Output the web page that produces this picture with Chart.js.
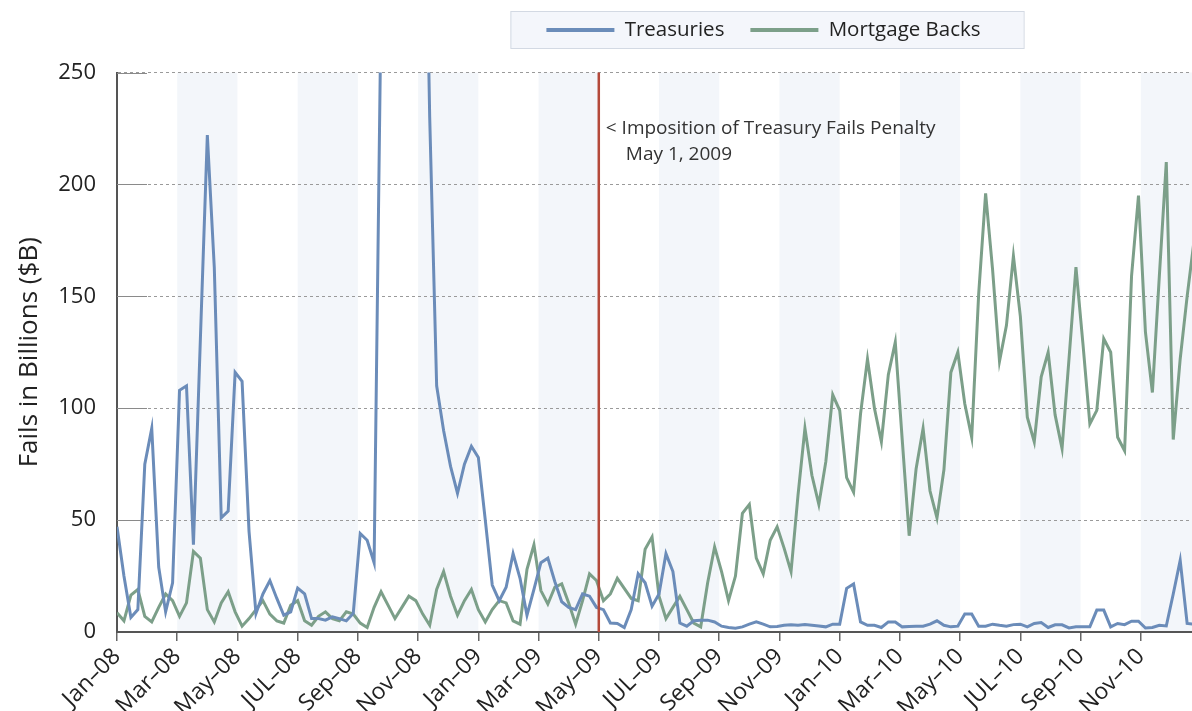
<!DOCTYPE html>
<html><head><meta charset="utf-8">
<script src="https://cdn.jsdelivr.net/npm/chart.js@4.4.1/dist/chart.umd.min.js"></script>
<style>html,body{margin:0;padding:0;background:#fff;}canvas{display:block;}</style>
</head><body>
<canvas id="c" width="1192" height="711"></canvas>
<script>
// ---- data ----
const seriesNames = ['Treasuries', 'Mortgage Backs'];
const tickLabels = ['Jan–08','Mar–08','May–08','JUL–08','Sep–08','Nov–08','Jan–09','Mar–09','May–09','JUL–09','Sep–09','Nov–09','Jan–10','Mar–10','May–10','JUL–10','Sep–10','Nov–10'];
const tickMonths = [0,2,4,6,8,10,12,14,16,18,20,22,24,26,28,30,32,34];
const shadedMonths = [[2,4],[6,8],[10,12],[14,16],[18,20],[22,24],[26,28],[30,32],[34,36]];
const penaltyMonth = 16; // May 1, 2009
const annotationLines = ['< Imposition of Treasury Fails Penalty', 'May 1, 2009'];
const yTitle = 'Fails in Billions ($B)';
const yTicks = [0, 50, 100, 150, 200, 250];
// weekly values, first week = Jan-08
const treasuries = [
 47, 25, 6.5, 10, 75, 91, 29, 9, 22, 108,
 110, 39, 131, 222, 163, 51, 54, 116, 112, 45,
 8.3, 17, 23, 15, 7.5, 9, 19.6, 17, 6, 6,
 5.3, 6.8, 6, 5, 8.3, 44, 41, 31, 280, 900,
 1500, 2000, 2700, 1800, 400, 230, 110, 90, 74, 62,
 75, 83, 78, 50, 21, 14, 20, 35, 24, 7.5,
 19, 31, 33, 22.6, 13.5, 11, 10, 17, 16, 11,
 10, 4, 3.8, 2, 10, 26, 22, 11.5, 17, 35,
 27, 4, 2.6, 5, 5.3, 5.3, 4.5, 2.6, 2, 1.7,
 2.3, 3.5, 4.5, 3.5, 2.3, 2.5, 3, 3.2, 3, 3.3,
 3, 2.7, 2.3, 3.5, 3.5, 19.5, 21.5, 4.5, 3, 3,
 2, 4.5, 4.5, 2.3, 2.5, 2.6, 2.6, 3.5, 5, 3,
 2.3, 2.6, 8, 8, 2.6, 2.6, 3.5, 3, 2.6, 3.3,
 3.5, 2.3, 3.8, 4.2, 2, 3.2, 3.2, 1.8, 2.3, 2.3,
 2.3, 9.8, 9.8, 2.3, 3.8, 3.3, 4.8, 4.8, 1.8, 2,
 3, 2.7, 17, 32, 3.8, 3.5];
const mortgageBacks = [
 8.6, 5, 16.5, 19, 7, 4.5, 11, 17, 14, 7,
 13, 36, 33, 10, 4.5, 13, 18, 9, 2.6, 6,
 10, 14, 8, 5, 4, 12, 14, 5, 3, 7,
 9, 6, 5, 9, 8, 4, 2, 11, 18, 12,
 6, 11, 16, 14, 8, 3, 19, 27, 16, 7.5,
 14, 19, 10, 4.5, 10, 14, 13, 5, 3.5, 28,
 39, 18.5, 12.5, 20, 21.5, 13, 3.5, 14, 26, 23,
 14, 17, 24, 19.5, 15, 14, 37, 42.5, 16, 6,
 11, 16, 10, 4, 2.3, 22, 38, 27, 14, 25,
 53, 57, 33, 26, 41, 47, 37.5, 27, 61, 91,
 70, 57, 76, 106, 99, 69, 62.5, 97.5, 122, 100,
 85, 115, 129.5, 86, 43, 73, 91, 63, 51, 72.5,
 116, 125, 102, 87, 151, 196, 162, 121, 137, 168,
 141, 96, 85, 114, 125, 97, 82, 122, 163, 129,
 93, 99, 131, 125, 87, 81, 159, 195, 134, 107,
 159, 210, 86, 122, 150, 175];

// ---- style ----
const WEEKS_PER_MONTH = 52 / 12;
const X_MAX = 35.7;
const FONT = "'Open Sans', sans-serif";
const COLORS = ['#6b8cb9', '#7c9f89'];
const toPoints = arr => arr.map((v, i) => ({ x: i / WEEKS_PER_MONTH, y: v }));

const decor = {
  id: 'decor',
  afterLayout(chart) {
    const lg = chart.legend;
    if (!lg || !lg.lineWidths) return;
    const pad = lg.options.labels.padding;
    const LW = lg.lineWidths[0];
    const start = (lg.left + pad + lg.right - LW) / 2;
    const center = start + (LW - pad) / 2;
    const dx = 763.5 - center;
    lg.left += dx; lg.right += dx;
    const fs = lg.options.labels.font.size;
    const dy = 30 - (lg.top + pad + fs / 2);
    lg.top += dy; lg.bottom += dy;
  },
  beforeDraw(chart) {
    const { ctx, chartArea: a, scales: { x } } = chart;
    ctx.save();
    ctx.fillStyle = '#f3f6fa';
    shadedMonths.forEach(([s, e]) => {
      const x1 = x.getPixelForValue(s);
      const x2 = Math.min(x.getPixelForValue(e), a.right);
      if (x2 > x1) ctx.fillRect(x1, a.top, x2 - x1, a.bottom - a.top);
    });
    const lg = chart.legend;
    if (lg && lg.lineWidths) {
      const pad = lg.options.labels.padding;
      const LW = lg.lineWidths[0];
      const start = (lg.left + pad + lg.right - LW) / 2;
      const end = start + LW - pad;
      const fs = lg.options.labels.font.size;
      const cy = lg.top + pad + fs / 2;
      ctx.fillStyle = '#f4f6fb';
      ctx.strokeStyle = '#d3d9e3';
      ctx.lineWidth = 1;
      ctx.fillRect(start - 36, cy - 19, end - start + 79, 37);
      ctx.strokeRect(start - 36 + 0.5, cy - 19 + 0.5, end - start + 79, 37);
    }
    ctx.restore();
  },
  beforeDatasetsDraw(chart) {
    const { ctx, chartArea: a, scales: { y } } = chart;
    ctx.save();
    ctx.strokeStyle = '#8a8a8a';
    ctx.lineWidth = 1;
    yTicks.forEach(v => {
      if (v === 0) return;
      const yp = Math.round(y.getPixelForValue(v)) + 0.5;
      ctx.beginPath(); ctx.moveTo(a.left, yp); ctx.lineTo(a.left + 30, yp); ctx.stroke();
    });
    ctx.restore();
  },
  afterDatasetsDraw(chart) {
    const { ctx, chartArea: a, scales: { x } } = chart;
    const xp = x.getPixelForValue(penaltyMonth);
    ctx.save();
    ctx.strokeStyle = '#b4493a';
    ctx.lineWidth = 2.5;
    ctx.beginPath();
    ctx.moveTo(xp, a.top);
    ctx.lineTo(xp, a.bottom);
    ctx.stroke();
    ctx.fillStyle = '#333';
    ctx.font = `19px ${FONT}`;
    ctx.textBaseline = 'middle';
    ctx.textAlign = 'left';
    ctx.fillText(annotationLines[0], xp + 7, 129);
    ctx.fillText(annotationLines[1], xp + 27, 155);
    ctx.restore();
  }
};

new Chart(document.getElementById('c'), {
  type: 'line',
  data: {
    datasets: [
      { label: seriesNames[0], data: toPoints(treasuries), borderColor: COLORS[0], backgroundColor: COLORS[0], borderWidth: 3, pointRadius: 0, tension: 0, fill: false },
      { label: seriesNames[1], data: toPoints(mortgageBacks), borderColor: COLORS[1], backgroundColor: COLORS[1], borderWidth: 3, pointRadius: 0, tension: 0, fill: false }
    ]
  },
  options: {
    responsive: false,
    animation: false,
    devicePixelRatio: 1,
    layout: { padding: { top: 16, left: 0, right: 0, bottom: 0 } },
    plugins: {
      legend: {
        position: 'top',
        labels: {
          usePointStyle: true, pointStyle: 'line', pointStyleWidth: 68, padding: 26, color: '#222',
          font: { family: FONT, size: 20.5 },
          generateLabels: chart => Chart.defaults.plugins.legend.labels.generateLabels(chart).map(l => Object.assign(l, { lineWidth: 4 }))
        }
      },
      tooltip: { enabled: false }
    },
    scales: {
      x: {
        type: 'linear', min: 0, max: X_MAX,
        afterBuildTicks: s => { s.ticks = tickMonths.map(v => ({ value: v })); },
        afterFit: s => { s.height = 79; },
        ticks: { autoSkip: false, maxRotation: 45, minRotation: 45, padding: 2, color: '#222', font: { family: FONT, size: 23 }, callback: (v, i) => tickLabels[i] },
        grid: { drawOnChartArea: false, drawTicks: true, tickLength: 9, color: '#666', lineWidth: 1.5 },
        border: { color: '#555', width: 2 }
      },
      y: {
        min: 0, max: 250,
        afterBuildTicks: s => { s.ticks = yTicks.map(v => ({ value: v })); },
        afterFit: s => { s.width = 117; },
        ticks: { padding: 21, color: '#222', font: { family: FONT, size: 22 } },
        grid: { drawTicks: false, color: '#9a9a9a', lineWidth: 1 },
        border: { color: '#555', width: 2, dash: [3, 3] },
        title: { display: true, text: yTitle, color: '#222', font: { family: FONT, size: 26 }, padding: { top: 14, bottom: 0 } }
      }
    }
  },
  plugins: [decor]
});
</script>
</body></html>
